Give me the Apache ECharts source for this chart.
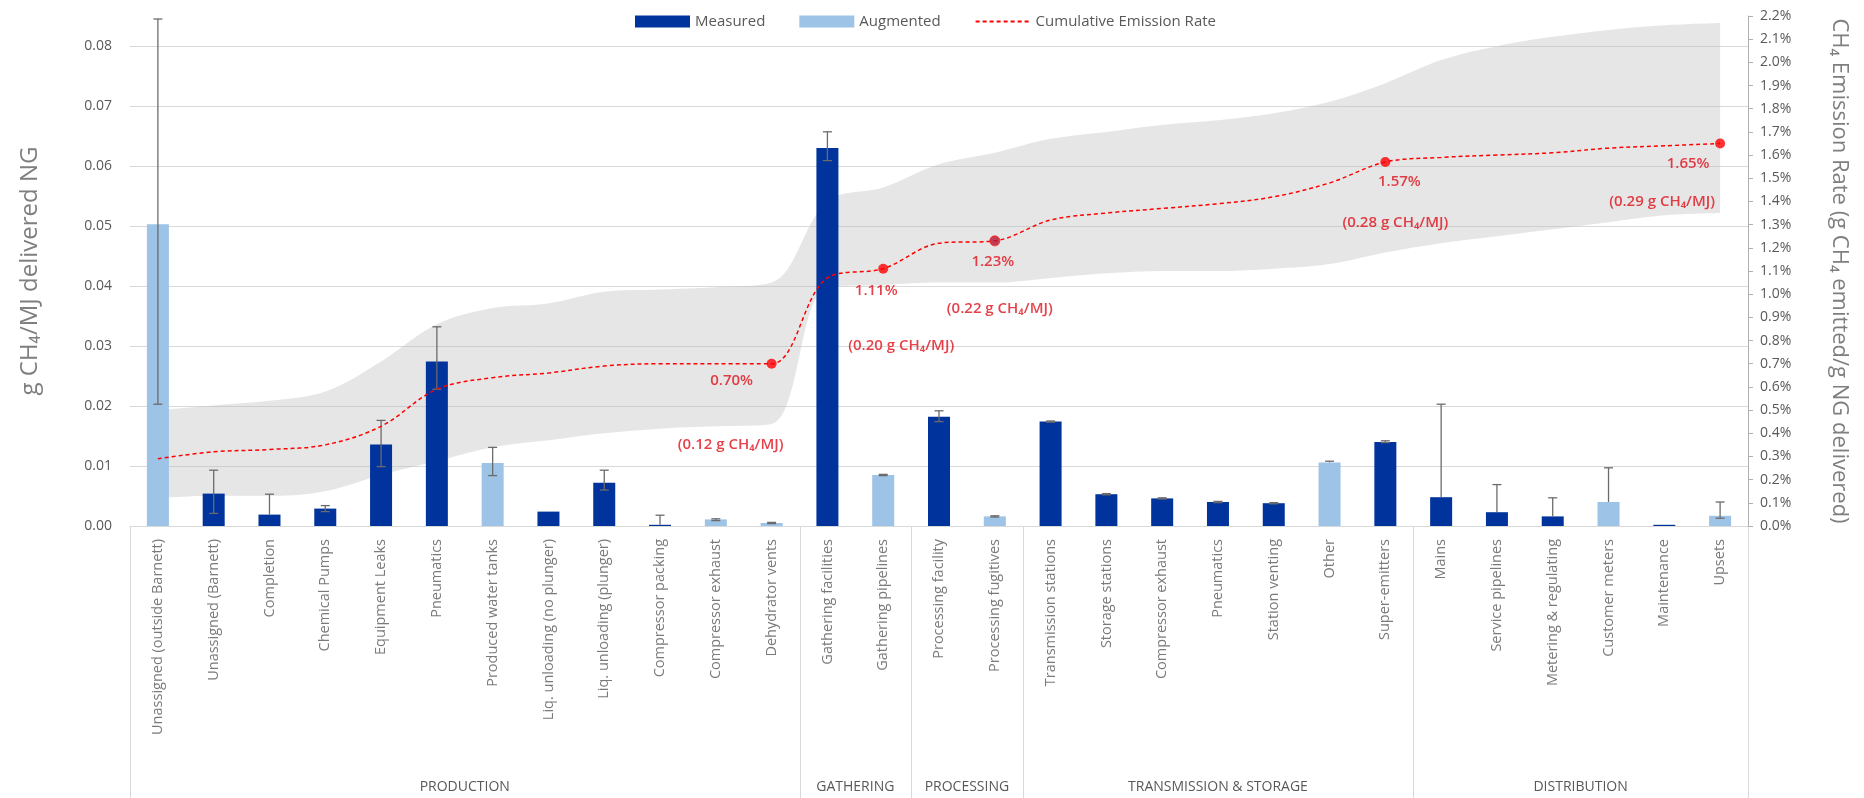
<!DOCTYPE html>
<html>
<head>
<meta charset="utf-8">
<script src="https://cdn.jsdelivr.net/npm/echarts@6/dist/echarts.min.js"></script>
<style>
html,body{margin:0;padding:0;background:#fff;}
#chart{width:1864px;height:798px;}
</style>
</head>
<body>
<div id="chart"></div>
<script>
// ---------------- DATA ----------------
const categories = [
  'Unassigned (outside Barnett)', 'Unassigned (Barnett)', 'Completion', 'Chemical Pumps',
  'Equipment Leaks', 'Pneumatics', 'Produced water tanks', 'Liq. unloading (no plunger)',
  'Liq. unloading (plunger)', 'Compressor packing', 'Compressor exhaust', 'Dehydrator vents',
  'Gathering facilities', 'Gathering pipelines',
  'Processing facility', 'Processing fugitives',
  'Transmission stations', 'Storage stations', 'Compressor exhaust', 'Pneumatics',
  'Station venting', 'Other', 'Super-emitters',
  'Mains', 'Service pipelines', 'Metering & regulating', 'Customer meters', 'Maintenance', 'Upsets'
];
const groupNames = ['PRODUCTION', 'GATHERING', 'PROCESSING', 'TRANSMISSION & STORAGE', 'DISTRIBUTION'];
const groupFirst = [0, 12, 14, 16, 23];
const groupLast  = [11, 13, 15, 22, 28];

// g CH4 / MJ delivered NG (left axis)
const measured = [null, 0.0054, 0.0019, 0.0029, 0.0136, 0.0274, null, 0.0024, 0.0072, 0.0002, null, null,
  0.0630, null, 0.0182, null, 0.0174, 0.0053, 0.0046, 0.0040, 0.0038, null, 0.0140,
  0.0048, 0.0023, 0.0016, null, 0.0002, null];
const augmented = [0.0503, null, null, null, null, null, 0.0105, null, null, null, 0.0011, 0.0005,
  null, 0.0085, null, 0.0016, null, null, null, null, null, 0.0106, null,
  null, null, null, 0.0040, null, 0.0017];
const errLow = [0.0203, 0.0021, 0.0019, 0.0024, 0.0099, 0.0228, 0.0084, null, 0.0060, 0.0002, 0.0009, 0.0004,
  0.0609, 0.0084, 0.0174, 0.0015, 0.0173, 0.0052, 0.0045, 0.0039, 0.0037, 0.0106, 0.0139,
  0.0048, 0.0023, 0.0016, 0.0040, null, 0.0013];
const errHigh = [0.0845, 0.0093, 0.0053, 0.0034, 0.0176, 0.0332, 0.0131, null, 0.0093, 0.0018, 0.0012, 0.0006,
  0.0657, 0.0086, 0.0192, 0.0017, 0.0175, 0.0054, 0.0047, 0.0041, 0.0039, 0.0108, 0.0142,
  0.0203, 0.0069, 0.0047, 0.0097, null, 0.0040];

// Cumulative emission rate, % (right axis)
const cumRate = [0.29, 0.32, 0.33, 0.35, 0.43, 0.59, 0.64, 0.66, 0.69, 0.70, 0.70, 0.70,
  1.07, 1.11, 1.22, 1.23, 1.32, 1.35, 1.37, 1.39, 1.42, 1.48, 1.57,
  1.59, 1.60, 1.61, 1.63, 1.64, 1.65];
const bandUpper = [0.50, 0.52, 0.54, 0.58, 0.71, 0.87, 0.94, 0.96, 1.01, 1.02, 1.03, 1.05,
  1.40, 1.46, 1.56, 1.61, 1.67, 1.70, 1.73, 1.75, 1.78, 1.83, 1.91,
  2.01, 2.07, 2.11, 2.14, 2.16, 2.17];
const bandLower = [0.12, 0.13, 0.13, 0.15, 0.22, 0.28, 0.34, 0.37, 0.40, 0.42, 0.43, 0.44,
  1.03, 1.04, 1.05, 1.05, 1.07, 1.09, 1.10, 1.10, 1.11, 1.13, 1.18,
  1.22, 1.25, 1.28, 1.31, 1.34, 1.35];

// Highlighted points
const markIdx = [11, 13, 15, 22, 28];
const markPct = [0.70, 1.11, 1.23, 1.57, 1.65];
const markGram = ['0.12', '0.20', '0.22', '0.28', '0.29'];

const leftTicks = [0, 0.01, 0.02, 0.03, 0.04, 0.05, 0.06, 0.07, 0.08];

// ---------------- LAYOUT / STYLE (not data) ----------------
const pctOffsets  = [[-40, 17], [-7, 22], [-2, 21], [14, 20], [-32, 20]];
const gramOffsets = [[-41, 81], [18, 77], [5, 68], [10, 61], [-58, 58]];
const FONT = 'Open Sans';
const C_MEAS = '#00339c';
const C_AUG = '#9dc3e6';
const C_RED = '#ff0000';
const C_LBL = '#e0101a';
const C_TXT = '#595959';

const chart = echarts.init(document.getElementById('chart'), null, {renderer: 'canvas'});

const errData = categories.map((c, i) => {
  const v = measured[i] != null ? measured[i] : augmented[i];
  return errLow[i] == null ? [i, '-', '-', '-'] : [i, errLow[i], errHigh[i], v];
});

const bandSpan = bandUpper.map((u, i) => +(u - bandLower[i]).toFixed(4));

const option = {
  animation: false,
  textStyle: {fontFamily: FONT},
  grid: {left: 130, right: 116, top: 16, bottom: 272, containLabel: false},
  legend: {
    left: 630, top: 9,
    itemWidth: 55, itemHeight: 12, itemGap: 34,
    textStyle: {color: C_TXT, fontSize: 15, fontFamily: FONT},
    data: [
      {name: 'Measured', icon: 'rect'},
      {name: 'Augmented', icon: 'rect'},
      {name: 'Cumulative Emission Rate', itemStyle: {opacity: 0}}
    ]
  },
  xAxis: {
    type: 'category',
    data: categories,
    axisLine: {show: true, lineStyle: {color: '#d9d9d9', width: 1}},
    axisTick: {show: false},
    axisLabel: {rotate: 90, interval: 0, color: '#7a7a7a', fontSize: 14.5, margin: 13, fontFamily: FONT},
    splitLine: {show: false}
  },
  yAxis: [
    {
      type: 'value', min: 0, max: 0.085, interval: 0.01,
      name: 'g CH\u2084/MJ delivered NG', nameLocation: 'middle', nameGap: 88, nameRotate: 90,
      nameTextStyle: {color: '#7f7f7f', fontSize: 24, fontFamily: FONT},
      axisLine: {show: false}, axisTick: {show: false},
      axisLabel: {color: C_TXT, fontSize: 14, margin: 18, showMaxLabel: false,
        formatter: v => leftTicks.some(t => Math.abs(t - v) < 1e-9) ? v.toFixed(2) : ''},
      splitLine: {show: true, showMaxLine: false, lineStyle: {color: '#d9d9d9', width: 1}}
    },
    {
      type: 'value', min: 0, max: 2.2, interval: 0.1, position: 'right',
      name: 'CH\u2084 Emission Rate (g CH\u2084 emitted/g NG delivered)', nameLocation: 'middle', nameGap: 80, nameRotate: -90,
      nameTextStyle: {color: '#7f7f7f', fontSize: 22, fontFamily: FONT},
      axisLine: {show: true, lineStyle: {color: '#b0b0b0', width: 1}},
      axisTick: {show: true, length: 5, lineStyle: {color: '#b0b0b0'}},
      axisLabel: {color: C_TXT, fontSize: 14, margin: 12, formatter: v => v.toFixed(1) + '%'},
      splitLine: {show: false}
    }
  ],
  series: [
    {
      name: 'bandLow', type: 'line', yAxisIndex: 1, stack: 'band', data: bandLower,
      symbol: 'none', smooth: 0.35, lineStyle: {opacity: 0}, silent: true, z: 1
    },
    {
      name: 'bandSpan', type: 'line', yAxisIndex: 1, stack: 'band', data: bandSpan,
      symbol: 'none', smooth: 0.35, lineStyle: {opacity: 0},
      areaStyle: {color: 'rgba(185,185,185,0.36)', opacity: 1}, silent: true, z: 1
    },
    {
      name: 'Measured', type: 'bar', data: measured, barWidth: 22, barGap: '-100%',
      itemStyle: {color: C_MEAS}, z: 2
    },
    {
      name: 'Augmented', type: 'bar', data: augmented, barWidth: 22, barGap: '-100%',
      itemStyle: {color: C_AUG}, z: 2
    },
    {
      name: 'err', type: 'custom', data: errData, z: 3, silent: true,
      encode: {x: 0, y: [1, 2]},
      renderItem: function (params, api) {
        const lowV = api.value(1), highV = api.value(2), v = api.value(3);
        if (isNaN(lowV) || isNaN(highV)) return null;
        const hi = api.coord([api.value(0), highV]);
        const lo = api.coord([api.value(0), lowV]);
        const half = 4.5;
        const st = {stroke: '#6b6b6b', lineWidth: 1.3};
        const children = [
          {type: 'line', shape: {x1: hi[0], y1: hi[1], x2: lo[0], y2: lo[1]}, style: st},
          {type: 'line', shape: {x1: hi[0] - half, y1: hi[1], x2: hi[0] + half, y2: hi[1]}, style: st}
        ];
        if (lowV < v - 1e-9) {
          children.push({type: 'line', shape: {x1: lo[0] - half, y1: lo[1], x2: lo[0] + half, y2: lo[1]}, style: st});
        }
        return {type: 'group', children: children};
      }
    },
    {
      name: 'Cumulative Emission Rate', type: 'line', yAxisIndex: 1, data: cumRate,
      symbol: 'none', showSymbol: false, smooth: 0.35, z: 4,
      lineStyle: {color: C_RED, width: 1.5, type: [4, 3]},
      itemStyle: {color: C_RED}
    },
    {
      name: 'markers', type: 'scatter', yAxisIndex: 1, z: 5, symbolSize: 10,
      data: markIdx.map((ix, k) => ({
        value: [ix, markPct[k]],
        itemStyle: k === 2 ? {color: '#b81530', borderColor: '#ff2020', borderWidth: 1} : {color: C_RED},
        label: {
          show: true, position: 'inside', offset: pctOffsets[k],
          formatter: markPct[k].toFixed(2) + '%',
          color: C_LBL, fontSize: 15, fontWeight: 600, fontFamily: FONT
        }
      }))
    },
    {
      name: 'gramLabels', type: 'scatter', yAxisIndex: 1, z: 5, symbolSize: 0, silent: true,
      data: markIdx.map((ix, k) => ({
        value: [ix, markPct[k]],
        label: {
          show: true, position: 'inside', offset: gramOffsets[k],
          formatter: '(' + markGram[k] + ' g CH\u2084/MJ)',
          color: C_LBL, fontSize: 15, fontWeight: 600, fontFamily: FONT
        }
      }))
    }
  ]
};

chart.setOption(option);

// Group separators and group labels, positioned through the category axis scale
function drawGroups() {
  const c0 = chart.convertToPixel({xAxisIndex: 0}, 0);
  const c1 = chart.convertToPixel({xAxisIndex: 0}, 1);
  const half = (c1 - c0) / 2;
  const yAxisPx = chart.convertToPixel({yAxisIndex: 0}, 0);
  const bottom = 798;
  const g = [];
  const bounds = new Set();
  groupFirst.forEach((f, k) => {
    const xs = chart.convertToPixel({xAxisIndex: 0}, f) - half;
    const xe = chart.convertToPixel({xAxisIndex: 0}, groupLast[k]) + half;
    bounds.add(Math.round(xs));
    bounds.add(Math.round(xe));
    g.push({
      type: 'text', silent: true,
      x: (xs + xe) / 2, y: 787,
      style: {text: groupNames[k], fill: C_TXT, fontSize: 14, fontFamily: FONT, align: 'center', verticalAlign: 'middle'}
    });
  });
  bounds.forEach(x => {
    g.push({
      type: 'line', silent: true,
      shape: {x1: x + 0.5, y1: yAxisPx, x2: x + 0.5, y2: bottom},
      style: {stroke: '#d9d9d9', lineWidth: 1}
    });
  });
  chart.setOption({graphic: g});
}
drawGroups();
</script>
</body>
</html>
